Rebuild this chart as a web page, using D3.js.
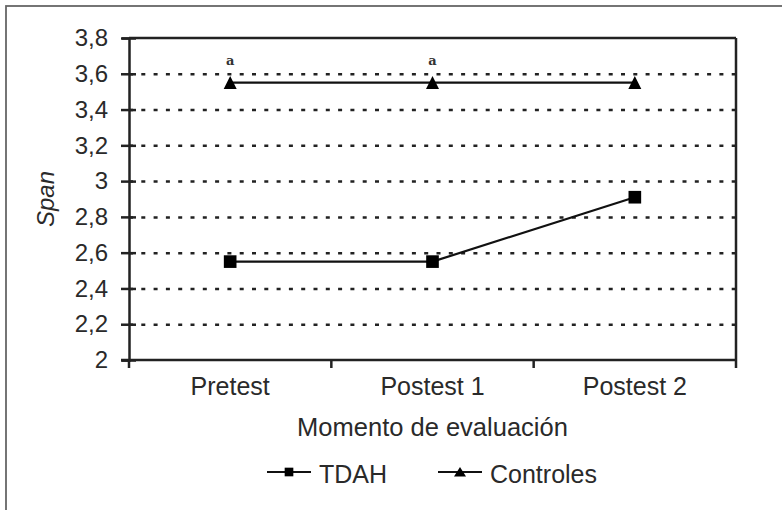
<!DOCTYPE html>
<html>
<head>
<meta charset="utf-8">
<script src="https://cdn.jsdelivr.net/npm/d3@7"></script>
<style>
  body { margin: 0; background: #fff; }
  svg { display: block; font-family: "Liberation Sans", Arial, sans-serif; }
  .grid line { stroke: #222; stroke-width: 2.5; stroke-dasharray: 4 8.3; }
  .grid .domain { display: none; }
</style>
</head>
<body>
<svg width="782" height="510"></svg>
<script>
const categories = ["Pretest", "Postest 1", "Postest 2"];
const tdah = [2.55, 2.55, 2.91];
const controles = [3.55, 3.55, 3.55];
const notes = ["a", "a", ""];
const yTicks = [2, 2.2, 2.4, 2.6, 2.8, 3, 3.2, 3.4, 3.6, 3.8];

const plotLeft = 129, plotRight = 736, plotTop = 38, plotBottom = 360;
const width = plotRight - plotLeft;
const height = plotBottom - plotTop;

const svg = d3.select("svg");

// outer frame (only top/left visible in the crop)
svg.append("rect")
  .attr("x", 6).attr("y", 6)
  .attr("width", 800).attr("height", 600)
  .attr("fill", "none")
  .attr("stroke", "#666")
  .attr("stroke-width", 1.8);

const chart = svg.append("g").attr("transform", `translate(${plotLeft}, ${plotTop})`);

const yScale = d3.scaleLinear().domain([2, 3.8]).range([height, 0]);
const xBand = d3.scaleBand().domain(categories).range([0, width]);
const x = c => xBand(c) + xBand.bandwidth() / 2;

const fmt = v => d3.format(".1f")(v).replace(/\.0$/, "").replace(".", ",");

// Grid lines - horizontal dotted
chart.append("g")
  .attr("class", "grid")
  .call(d3.axisLeft(yScale).tickValues(yTicks.slice(1, -1)).tickSize(-width).tickFormat(""));

// plot box top and right
chart.append("line")
  .attr("x1", 0).attr("x2", width).attr("y1", 0).attr("y2", 0)
  .attr("stroke", "#222").attr("stroke-width", 2.5);
chart.append("line")
  .attr("x1", width).attr("x2", width).attr("y1", 0).attr("y2", height + 8)
  .attr("stroke", "#222").attr("stroke-width", 2.5);

// Y axis
const yAxis = chart.append("g")
  .call(d3.axisLeft(yScale).tickValues(yTicks).tickSize(7).tickPadding(6).tickFormat(fmt));
yAxis.select(".domain").attr("stroke", "#222").attr("stroke-width", 2.5);
yAxis.selectAll(".tick line").attr("x2", 7).attr("x1", -8).attr("stroke", "#222").attr("stroke-width", 2.5);
yAxis.selectAll(".tick text")
  .attr("x", -21)
  .attr("font-size", 24)
  .attr("fill", "#2a2a2a")
  .attr("font-family", "Liberation Sans, Arial, sans-serif");

// X axis
chart.append("line")
  .attr("x1", -8).attr("x2", width).attr("y1", height).attr("y2", height)
  .attr("stroke", "#222").attr("stroke-width", 2.5);
chart.selectAll(".xtick")
  .data(categories)
  .enter()
  .append("line")
  .attr("x1", c => xBand(c)).attr("x2", c => xBand(c))
  .attr("y1", height).attr("y2", height + 8)
  .attr("stroke", "#222").attr("stroke-width", 2.5);
chart.selectAll(".xlabel")
  .data(categories)
  .enter()
  .append("text")
  .attr("x", c => x(c))
  .attr("y", height + 35)
  .attr("text-anchor", "middle")
  .attr("font-size", 25)
  .attr("fill", "#2a2a2a")
  .text(c => c);

// Series lines
const line = d3.line().x((d, i) => x(categories[i])).y(d => yScale(d));
chart.append("path").datum(tdah)
  .attr("d", line).attr("fill", "none").attr("stroke", "#111").attr("stroke-width", 2.2);
chart.append("path").datum(controles)
  .attr("d", line).attr("fill", "none").attr("stroke", "#111").attr("stroke-width", 2.2);

const square = d3.symbol().type(d3.symbolSquare).size(160);
const triPath = (w, h) => `M0,${-h / 2 - 0.5}L${w / 2},${h / 2}L${-w / 2},${h / 2}Z`;

chart.selectAll(".sq")
  .data(tdah)
  .enter()
  .append("path")
  .attr("d", square)
  .attr("transform", (d, i) => `translate(${x(categories[i])}, ${yScale(d)})`)
  .attr("fill", "#000");

chart.selectAll(".tri")
  .data(controles)
  .enter()
  .append("path")
  .attr("d", triPath(13, 12.5))
  .attr("transform", (d, i) => `translate(${x(categories[i])}, ${yScale(d)})`)
  .attr("fill", "#000");

// significance notes
chart.selectAll(".note")
  .data(controles)
  .enter()
  .append("text")
  .attr("x", (d, i) => x(categories[i]))
  .attr("y", d => yScale(d) - 18)
  .attr("text-anchor", "middle")
  .attr("font-family", "DejaVu Serif, Liberation Serif, serif")
  .attr("font-size", 13)
  .attr("font-weight", "bold")
  .attr("fill", "#333")
  .text((d, i) => notes[i]);

// Labels
svg.append("text")
  .attr("transform", `translate(${54}, ${plotTop + height / 2}) rotate(-90)`)
  .attr("text-anchor", "middle")
  .attr("font-size", 24)
  .attr("font-style", "italic")
  .attr("fill", "#2a2a2a")
  .text("Span");

svg.append("text")
  .attr("x", plotLeft + width / 2)
  .attr("y", 436)
  .attr("text-anchor", "middle")
  .attr("font-size", 25.5)
  .attr("fill", "#2a2a2a")
  .text("Momento de evaluación");

// Legend
const legend = [
  { name: "TDAH", type: "square", x: 267 },
  { name: "Controles", type: "triangle", x: 438 }
];
const lg = svg.selectAll(".lg").data(legend).enter().append("g")
  .attr("transform", d => `translate(${d.x}, 472)`);
lg.append("line").attr("x1", 0).attr("x2", 44).attr("y1", 0).attr("y2", 0)
  .attr("stroke", "#111").attr("stroke-width", 2.2);
lg.append("path")
  .attr("d", d => d.type === "square" ? d3.symbol().type(d3.symbolSquare).size(75)() : triPath(12, 9))
  .attr("transform", "translate(22, 0)").attr("fill", "#000");
lg.append("text").attr("x", 52).attr("y", 11)
  .attr("font-size", 25)
  .attr("fill", "#2a2a2a")
  .text(d => d.name);
</script>
</body>
</html>
